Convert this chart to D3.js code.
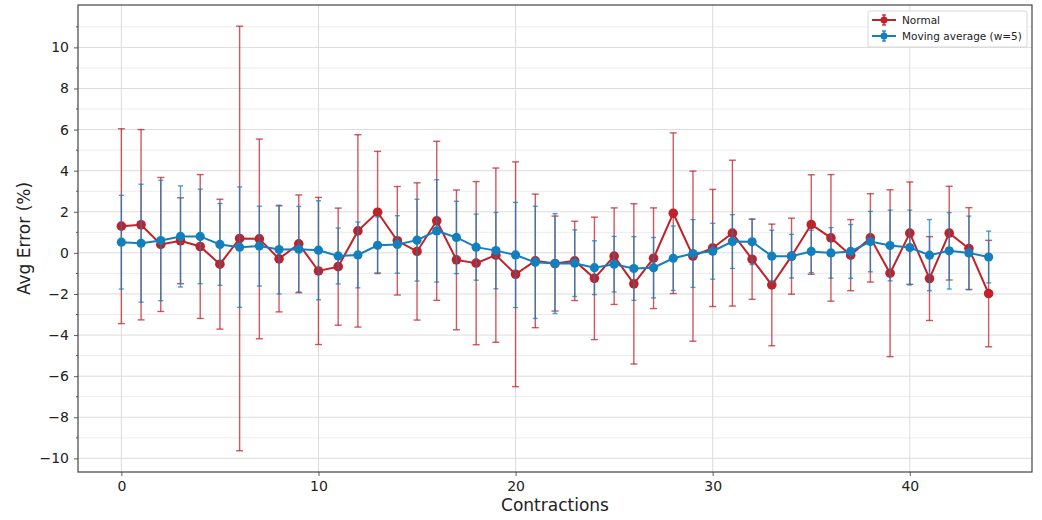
<!DOCTYPE html>
<html>
<head>
<meta charset="utf-8">
<script src="https://cdn.jsdelivr.net/npm/d3@7"></script>
<style>
  html, body { margin: 0; padding: 0; background: #fff; }
  svg { display: block; font-family: "DejaVu Sans", sans-serif; }
</style>
</head>
<body>
<svg id="chart" width="1042" height="520"></svg>
<script>
// Contraction index for each measurement
const contractions = d3.range(0, 45);

// Normal: average error (%) and its spread
const normalMean = [1.30, 1.37, 0.41, 0.59, 0.31, -0.55, 0.70, 0.68, -0.29, 0.44,
  -0.88, -0.67, 1.07, 1.98, 0.59, 0.07, 1.56, -0.34, -0.50, -0.11,
  -1.04, -0.39, -0.52, -0.39, -1.24, -0.16, -1.51, -0.26, 1.93, -0.16,
  0.24, 0.96, -0.31, -1.56, -0.16, 1.38, 0.73, -0.11, 0.73, -0.99,
  0.96, -1.25, 0.96, 0.21, -1.98];
const normalErr = [4.74, 4.63, 3.26, 2.09, 3.50, 3.16, 10.33, 4.86, 2.58, 2.38,
  3.58, 2.85, 4.68, 2.96, 2.64, 3.34, 3.87, 3.40, 3.97, 4.24,
  5.47, 3.25, 2.31, 1.93, 2.98, 2.35, 3.90, 2.45, 3.91, 4.14,
  2.85, 3.55, 1.95, 2.96, 1.85, 2.42, 3.08, 1.73, 2.15, 4.06,
  2.49, 2.04, 2.28, 1.99, 2.59];

// Moving average (window 5): average error (%) and its spread
const movingMean = [0.52, 0.47, 0.60, 0.80, 0.80, 0.41, 0.28, 0.33, 0.16, 0.18,
  0.13, -0.15, -0.10, 0.37, 0.41, 0.62, 1.07, 0.75, 0.28, 0.11,
  -0.10, -0.46, -0.52, -0.50, -0.72, -0.55, -0.76, -0.72, -0.26, -0.03,
  0.08, 0.55, 0.54, -0.16, -0.16, 0.07, 0.00, 0.07, 0.55, 0.36,
  0.26, -0.11, 0.10, 0.00, -0.20];
const movingErr = [2.28, 2.87, 2.93, 2.46, 2.30, 1.99, 2.93, 1.94, 2.16, 2.08,
  2.41, 1.36, 1.60, 1.38, 1.40, 1.99, 2.49, 1.76, 1.61, 1.86,
  2.56, 2.73, 2.43, 1.62, 1.31, 1.35, 1.55, 1.47, 1.57, 1.65,
  1.36, 1.31, 1.11, 1.26, 1.06, 1.03, 1.23, 1.31, 1.47, 1.72,
  1.82, 1.73, 1.86, 1.79, 1.26];

const xTicks = [0, 10, 20, 30, 40];
const yTicks = [-10, -8, -6, -4, -2, 0, 2, 4, 6, 8, 10];
const yMinorTicks = [-9, -7, -5, -3, -1, 1, 3, 5, 7, 9, 11];

const seriesNames = ["Normal", "Moving average (w=5)"];
const seriesColors = ["#c0222a", "#1380bd"];

const svg = d3.select("#chart");
const margin = { left: 78, right: 10, top: 5, bottom: 48 };
const W = 1042, H = 520;
const innerW = W - margin.left - margin.right;
const innerH = H - margin.top - margin.bottom;

const series = [
  { name: seriesNames[0], color: seriesColors[0], mean: normalMean, err: normalErr, r: 4.8, cap: 3.5 },
  { name: seriesNames[1], color: seriesColors[1], mean: movingMean, err: movingErr, r: 4.6, cap: 2.5 }
];

// Domains padded by 5% like the default plot margins
const xExt = d3.extent(contractions);
const xPad = (xExt[1] - xExt[0]) * 0.05;
const allLo = d3.min(series, s => d3.min(s.mean, (m, i) => m - s.err[i]));
const allHi = d3.max(series, s => d3.max(s.mean, (m, i) => m + s.err[i]));
const yPad = (allHi - allLo) * 0.05;

const x = d3.scaleLinear().domain([xExt[0] - xPad, xExt[1] + xPad]).range([0, innerW]);
const y = d3.scaleLinear().domain([allLo - yPad, allHi + yPad]).range([innerH, 0]);

const g = svg.append("g").attr("transform", `translate(${margin.left},${margin.top})`);

// Grid: minor horizontal, major horizontal, vertical at major x ticks
g.append("g").selectAll("line").data(yMinorTicks).join("line")
  .attr("x1", 0).attr("x2", innerW)
  .attr("y1", d => y(d)).attr("y2", d => y(d))
  .attr("stroke", "#ececec").attr("stroke-width", 1);
g.append("g").selectAll("line").data(yTicks).join("line")
  .attr("x1", 0).attr("x2", innerW)
  .attr("y1", d => y(d)).attr("y2", d => y(d))
  .attr("stroke", "#dcdcdc").attr("stroke-width", 1);
g.append("g").selectAll("line").data(xTicks).join("line")
  .attr("y1", 0).attr("y2", innerH)
  .attr("x1", d => x(d)).attr("x2", d => x(d))
  .attr("stroke", "#dcdcdc").attr("stroke-width", 1);

// Series: error bars, then connecting line, then markers
series.forEach(s => {
  const sg = g.append("g");
  const bars = sg.append("g").attr("stroke", s.color).attr("stroke-opacity", 0.75).attr("stroke-width", 1.4);
  contractions.forEach((c, i) => {
    const cx = x(c), lo = y(s.mean[i] - s.err[i]), hi = y(s.mean[i] + s.err[i]);
    bars.append("line").attr("x1", cx).attr("x2", cx).attr("y1", lo).attr("y2", hi);
    bars.append("line").attr("x1", cx - s.cap).attr("x2", cx + s.cap).attr("y1", lo).attr("y2", lo);
    bars.append("line").attr("x1", cx - s.cap).attr("x2", cx + s.cap).attr("y1", hi).attr("y2", hi);
  });
  const line = d3.line().x((d, i) => x(contractions[i])).y(d => y(d));
  sg.append("path").datum(s.mean)
    .attr("d", line).attr("fill", "none")
    .attr("stroke", s.color).attr("stroke-width", 2);
  sg.append("g").selectAll("circle").data(s.mean).join("circle")
    .attr("cx", (d, i) => x(contractions[i])).attr("cy", d => y(d))
    .attr("r", s.r).attr("fill", s.color);
});

// Axes
const xAxis = g.append("g").attr("transform", `translate(0,${innerH})`)
  .call(d3.axisBottom(x).tickValues(xTicks).tickSize(4).tickPadding(5).tickFormat(d3.format("d")));
const yAxis = g.append("g")
  .call(d3.axisLeft(y).tickValues(yTicks).tickSize(4).tickPadding(5)
    .tickFormat(d => d < 0 ? "\u2212" + Math.abs(d) : String(d)));
g.append("g").selectAll("line").data(yMinorTicks).join("line")
  .attr("x1", -2).attr("x2", 0).attr("y1", d => y(d)).attr("y2", d => y(d))
  .attr("stroke", "#333").attr("stroke-width", 0.8);
[xAxis, yAxis].forEach(a => {
  a.select(".domain").remove();
  a.selectAll("text").attr("font-size", 14).attr("fill", "#222").attr("font-family", "DejaVu Sans");
  a.selectAll("line").attr("stroke", "#333").attr("stroke-width", 0.8);
});

// Frame
g.append("rect").attr("x", 0).attr("y", 0).attr("width", innerW).attr("height", innerH)
  .attr("fill", "none").attr("stroke", "#444").attr("stroke-width", 1.2);

// Axis labels
svg.append("text")
  .attr("x", margin.left + innerW / 2).attr("y", H - 9)
  .attr("text-anchor", "middle").attr("font-size", 17).attr("fill", "#222")
  .text("Contractions");
svg.append("text")
  .attr("transform", `translate(30,${margin.top + innerH / 2}) rotate(-90)`)
  .attr("text-anchor", "middle").attr("font-size", 17).attr("fill", "#222")
  .text("Avg Error (%)");

// Legend
const lg = g.append("g").attr("transform", `translate(${innerW - 164},6)`);
lg.append("rect").attr("width", 159).attr("height", 36).attr("rx", 2)
  .attr("fill", "#fff").attr("fill-opacity", 0.85).attr("stroke", "#d8d8d8");
series.forEach((s, i) => {
  const ly = 9 + i * 16;
  const e = lg.append("g").attr("transform", `translate(4,${ly})`);
  e.append("line").attr("x1", 0).attr("x2", 24).attr("y1", 0).attr("y2", 0)
    .attr("stroke", s.color).attr("stroke-width", 2);
  e.append("line").attr("x1", 12).attr("x2", 12).attr("y1", -5).attr("y2", 5)
    .attr("stroke", s.color).attr("stroke-width", 1.3);
  e.append("line").attr("x1", 10).attr("x2", 14).attr("y1", -5).attr("y2", -5)
    .attr("stroke", s.color).attr("stroke-width", 1.3);
  e.append("line").attr("x1", 10).attr("x2", 14).attr("y1", 5).attr("y2", 5)
    .attr("stroke", s.color).attr("stroke-width", 1.3);
  e.append("circle").attr("cx", 12).attr("cy", 0).attr("r", 3.5).attr("fill", s.color);
  e.append("text").attr("x", 30).attr("y", 0).attr("dy", "0.35em")
    .attr("font-size", 10.5).attr("fill", "#222").text(s.name);
});
</script>
</body>
</html>
